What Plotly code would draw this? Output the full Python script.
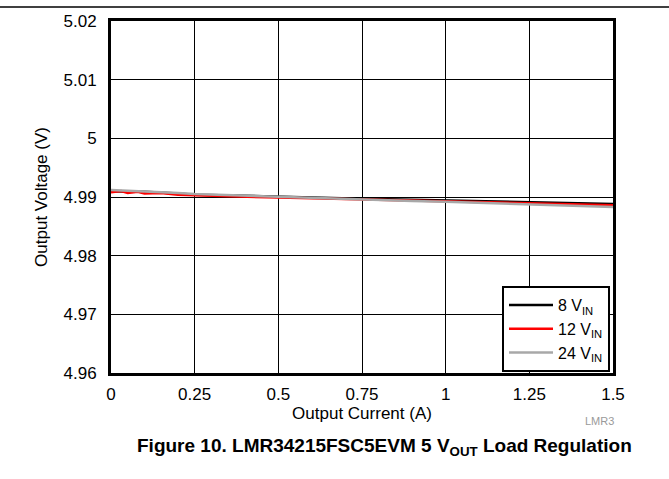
import plotly.graph_objects as go

# Load regulation data: output current (A) vs output voltage (V)
current_8v = [0.0, 0.05, 0.1, 0.2, 0.25, 0.4, 0.5, 0.6, 0.75, 0.9, 1.0, 1.1, 1.25, 1.4, 1.5]
vout_8v = [4.9910, 4.9910, 4.9909, 4.9906, 4.9904, 4.9902, 4.9900, 4.9899, 4.9897, 4.9895, 4.9894, 4.9893, 4.9891, 4.9889, 4.9888]

current_12v = [0.0, 0.03, 0.05, 0.08, 0.1, 0.15, 0.2, 0.25, 0.4, 0.5, 0.6, 0.75, 0.8, 0.9, 1.0, 1.1, 1.25, 1.4, 1.5]
vout_12v = [4.9908, 4.9910, 4.9907, 4.9909, 4.9906, 4.9907, 4.9904, 4.9903, 4.9901, 4.9899, 4.9898, 4.9896, 4.9895, 4.9894, 4.9893, 4.9892, 4.9890, 4.9888, 4.9886]

current_24v = [0.0, 0.05, 0.1, 0.2, 0.25, 0.4, 0.5, 0.6, 0.75, 0.9, 1.0, 1.1, 1.25, 1.4, 1.5]
vout_24v = [4.9912, 4.9911, 4.9910, 4.9907, 4.9905, 4.9902, 4.9900, 4.9898, 4.9895, 4.9893, 4.9892, 4.9890, 4.9888, 4.9885, 4.9883]

x_ticks = [0, 0.25, 0.5, 0.75, 1, 1.25, 1.5]
x_tick_text = ["0", "0.25", "0.5", "0.75", "1", "1.25", "1.5"]
y_ticks = [4.96, 4.97, 4.98, 4.99, 5.0, 5.01, 5.02]
y_tick_text = ["4.96", "4.97", "4.98", "4.99", "5", "5.01", "5.02"]

FONT = "Liberation Sans, Arial, sans-serif"

fig = go.Figure()
fig.add_trace(go.Scatter(x=current_8v, y=vout_8v, mode="lines", name="8 V<sub>IN</sub>",
                         line=dict(color="#000000", width=2.5)))
fig.add_trace(go.Scatter(x=current_12v, y=vout_12v, mode="lines", name="12 V<sub>IN</sub>",
                         line=dict(color="#ff0000", width=2.5)))
fig.add_trace(go.Scatter(x=current_24v, y=vout_24v, mode="lines", name="24 V<sub>IN</sub>",
                         line=dict(color="#a8a8a8", width=2.5)))

L, R, T, B = 111, 613, 19, 373
W, H = 669, 479
pw, ph = R - L, B - T

def px_x(x):
    return (x - L) / pw

def px_y(y):
    return (B - y) / ph

fig.update_layout(
    width=W, height=H,
    margin=dict(l=L, r=W - R, t=T, b=H - B, pad=0),
    paper_bgcolor="white", plot_bgcolor="white",
    font=dict(family=FONT, size=17, color="#000000"),
    showlegend=True,
    legend=dict(
        x=px_x(610), xanchor="right", y=px_y(372), yanchor="bottom",
        bgcolor="white", bordercolor="#000000", borderwidth=2,
        font=dict(family=FONT, size=16, color="#000000"),
        tracegroupgap=0, itemwidth=44,
    ),
    xaxis=dict(
        range=[0, 1.5], tickvals=x_ticks, ticktext=x_tick_text,
        showgrid=True, gridcolor="#000000", gridwidth=1,
        showline=True, linecolor="#000000", linewidth=3, mirror=True,
        zeroline=False, ticks="outside", ticklen=4, tickcolor="rgba(0,0,0,0)",
        tickfont=dict(size=17),
        title=dict(text="Output Current (A)", standoff=2, font=dict(size=17)),
    ),
    yaxis=dict(
        range=[4.96, 5.02], tickvals=y_ticks, ticktext=y_tick_text,
        showgrid=True, gridcolor="#000000", gridwidth=1,
        showline=True, linecolor="#000000", linewidth=3, mirror=True,
        zeroline=False, ticks="outside", ticklen=8, tickcolor="rgba(0,0,0,0)",
        tickfont=dict(size=17),
        title=dict(text="Output Voltage (V)", standoff=12, font=dict(size=17)),
    ),
    shapes=[
        dict(type="line", xref="paper", yref="paper",
             x0=px_x(0), x1=px_x(W), y0=px_y(5), y1=px_y(5),
             line=dict(color="#000000", width=1.5)),
    ],
    annotations=[
        dict(text="LMR3", xref="paper", yref="paper", x=px_x(599), y=px_y(421),
             xanchor="center", yanchor="middle",
             showarrow=False, font=dict(family=FONT, size=11, color="#9a9a9a")),
        dict(text="<b>Figure 10. LMR34215FSC5EVM 5 V<sub>OUT</sub> Load Regulation</b>",
             xref="paper", yref="paper", x=px_x(384), y=px_y(447),
             xanchor="center", yanchor="middle",
             showarrow=False, font=dict(family=FONT, size=19, color="#000000")),
    ],
)

fig.write_html("out.html")
